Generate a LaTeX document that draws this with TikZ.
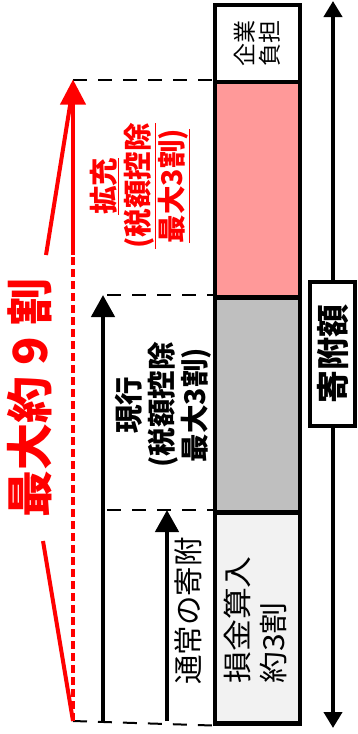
\documentclass[tikz,border=0pt]{standalone}
\usepackage{fontspec}
\setmainfont{Noto Sans CJK JP}
\usetikzlibrary{arrows.meta,positioning,calc}

\definecolor{expandpink}{HTML}{FF9999}
\definecolor{currentgray}{HTML}{BFBFBF}
\definecolor{normalgray}{HTML}{F2F2F2}

\tikzset{
  barpart/.style={draw, line width=4.5pt, minimum width=85pt, anchor=north west, inner sep=0pt},
  vlabel/.style={rotate=90, align=center, inner sep=0pt},
  guide/.style={line width=2pt, dash pattern=on 14pt off 11pt},
  riser/.style={line width=4.5pt, -{Triangle[width=23pt,length=22pt]}},
}

\begin{document}
\begin{tikzpicture}[x=1pt, y=-1pt]
\useasboundingbox (0,0) rectangle (358,734);

% the donation bar
\node [barpart, fill=white, minimum height=77pt] (company) at (212.5,2.5) {};
\node [barpart, fill=expandpink, minimum height=215.5pt] (expand) at (212.5,79.5) {};
\node [barpart, fill=currentgray, minimum height=215pt] (current) at (212.5,295) {};
\node [barpart, fill=normalgray, minimum height=211pt] (normal) at (212.5,510) {};

\node [vlabel, font=\fontsize{23}{24.5}\selectfont] (company-text) at (company.center) {企業\\負担};
\node [vlabel, align=left, anchor=west, xscale=1.1, font=\fontsize{29}{36}\selectfont] (normal-text) at (255.5,684) {損金算入\\約3割};

% total amount
\coordinate (amount-top) at (333,1);
\coordinate (amount-bottom) at (333,728);
\draw [line width=4.5pt, {Triangle[width=18pt,length=16pt]}-{Triangle[width=18pt,length=16pt]}] (amount-top) -- (amount-bottom);
\node [vlabel, draw, fill=white, line width=4pt, minimum width=144pt, minimum height=45pt,
  font=\bfseries\fontsize{33}{33}\selectfont] (amount) at (332.5,354) {寄附額};

% guide lines
\coordinate (red-tip) at (73,79.5);
\coordinate (red-base) at (73,721);
\coordinate (current-guide) at (107,295);
\coordinate (normal-guide) at (107,510);

\draw [guide] (red-tip) -- (expand.north west);
\draw [guide] (current-guide) -- (current.north west);
\draw [guide] (normal-guide) -- (normal.north west);
\draw [guide] (red-base) -- (normal.south west);

% black arrows
\coordinate (current-base) at (103,721);
\coordinate (current-tip) at (103,295);
\coordinate (normal-base) at (167,721);
\coordinate (normal-tip) at (167,510);

\draw [riser] (current-base) -- (current-tip);
\draw [riser] (normal-base) -- (normal-tip);

\node [vlabel, font=\bfseries\fontsize{28.5}{33}\selectfont] (current-text) at (163,405) {現行\\(税額控除\\最大3割)};
\node [vlabel, font=\fontsize{29.5}{29.5}\selectfont] (normal-label) at (188,611) {通常の寄附};

% red arrow
\coordinate (red-split) at (73,255);
\draw [red, line width=3.5pt, dash pattern=on 8pt off 4pt] (red-base) -- (red-split);
\draw [red, line width=4pt, -{Triangle[width=25pt,length=25pt]}] (red-split) -- (red-tip);

\node [vlabel, text=red, font=\bfseries\fontsize{28.5}{34}\selectfont] (expand-text) at (140,186)
  {\underline{拡充}\\\underline{(税額控除}\\\underline{最大3割)}};

\node [vlabel, text=red, font=\bfseries\fontsize{47}{47}\selectfont] (ninety) at (30,398) {最大約 9 割};

\coordinate (brace-top) at (46,255);
\coordinate (brace-bottom) at (43,541);
\draw [red, line width=4pt] (brace-top) -- (73,87);
\draw [red, line width=4pt] (brace-bottom) -- (red-base);

\end{tikzpicture}
\end{document}
